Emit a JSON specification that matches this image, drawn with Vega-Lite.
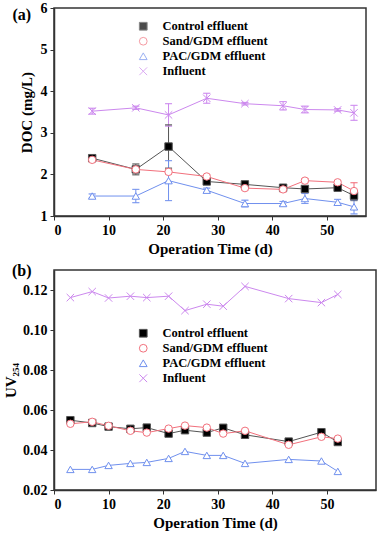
{
  "$schema": "https://vega.github.io/schema/vega-lite/v6.json",
  "padding": {"left": 2, "top": 0, "right": 0, "bottom": 0},
  "background": "white",
  "config": {
    "font": "Liberation Serif, Times New Roman, serif",
    "view": {"stroke": "#333333", "strokeWidth": 1.5},
    "axis": {
      "labelFont": "Liberation Serif, Times New Roman, serif", "labelFontWeight": "bold", "labelFontSize": 14, "labelColor": "black",
      "titleFont": "Liberation Serif, Times New Roman, serif", "titleFontWeight": "bold", "titleFontSize": 15, "titleColor": "black",
      "grid": false, "domainColor": "#333333", "domainWidth": 1.5, "tickColor": "#333333", "tickSize": 4, "tickWidth": 1, "labelPadding": 3
    },
    "legend": {
      "labelFont": "Liberation Serif, Times New Roman, serif", "labelFontWeight": "bold", "labelFontSize": 12.5, "labelColor": "black",
      "symbolStrokeWidth": 1, "symbolSize": 60, "rowPadding": 2, "labelOffset": 13, "title": null
    }
  },
  "datasets": {
    "doc": [
      {"t": 7, "v": 2.39, "lo": 2.36, "hi": 2.42, "s": "Control effluent"},
      {"t": 15, "v": 2.12, "lo": 1.99, "hi": 2.25, "s": "Control effluent"},
      {"t": 21, "v": 2.67, "lo": 2.15, "hi": 3.19, "s": "Control effluent"},
      {"t": 28, "v": 1.83, "lo": 1.8, "hi": 1.86, "s": "Control effluent"},
      {"t": 35, "v": 1.76, "lo": 1.73, "hi": 1.79, "s": "Control effluent"},
      {"t": 42, "v": 1.68, "lo": 1.64, "hi": 1.72, "s": "Control effluent"},
      {"t": 46, "v": 1.65, "lo": 1.6, "hi": 1.7, "s": "Control effluent"},
      {"t": 52, "v": 1.68, "lo": 1.64, "hi": 1.72, "s": "Control effluent"},
      {"t": 55, "v": 1.49, "lo": 1.37, "hi": 1.61, "s": "Control effluent"},
      {"t": 7, "v": 2.35, "lo": 2.31, "hi": 2.39, "s": "Sand/GDM effluent"},
      {"t": 15, "v": 2.12, "lo": 2.07, "hi": 2.17, "s": "Sand/GDM effluent"},
      {"t": 21, "v": 2.06, "lo": 2.01, "hi": 2.11, "s": "Sand/GDM effluent"},
      {"t": 28, "v": 1.95, "lo": 1.91, "hi": 1.99, "s": "Sand/GDM effluent"},
      {"t": 35, "v": 1.67, "lo": 1.63, "hi": 1.71, "s": "Sand/GDM effluent"},
      {"t": 42, "v": 1.64, "lo": 1.58, "hi": 1.7, "s": "Sand/GDM effluent"},
      {"t": 46, "v": 1.85, "lo": 1.8, "hi": 1.9, "s": "Sand/GDM effluent"},
      {"t": 52, "v": 1.81, "lo": 1.77, "hi": 1.85, "s": "Sand/GDM effluent"},
      {"t": 55, "v": 1.6, "lo": 1.4, "hi": 1.8, "s": "Sand/GDM effluent"},
      {"t": 7, "v": 1.48, "lo": 1.43, "hi": 1.53, "s": "PAC/GDM effluent"},
      {"t": 15, "v": 1.48, "lo": 1.32, "hi": 1.64, "s": "PAC/GDM effluent"},
      {"t": 21, "v": 1.85, "lo": 1.37, "hi": 2.33, "s": "PAC/GDM effluent"},
      {"t": 28, "v": 1.62, "lo": 1.57, "hi": 1.67, "s": "PAC/GDM effluent"},
      {"t": 35, "v": 1.3, "lo": 1.22, "hi": 1.38, "s": "PAC/GDM effluent"},
      {"t": 42, "v": 1.3, "lo": 1.25, "hi": 1.35, "s": "PAC/GDM effluent"},
      {"t": 46, "v": 1.42, "lo": 1.3, "hi": 1.54, "s": "PAC/GDM effluent"},
      {"t": 52, "v": 1.33, "lo": 1.26, "hi": 1.4, "s": "PAC/GDM effluent"},
      {"t": 55, "v": 1.22, "lo": 1.05, "hi": 1.39, "s": "PAC/GDM effluent"},
      {"t": 7, "v": 3.52, "lo": 3.45, "hi": 3.59, "s": "Influent"},
      {"t": 15, "v": 3.6, "lo": 3.56, "hi": 3.64, "s": "Influent"},
      {"t": 21, "v": 3.43, "lo": 3.16, "hi": 3.7, "s": "Influent"},
      {"t": 28, "v": 3.83, "lo": 3.71, "hi": 3.95, "s": "Influent"},
      {"t": 35, "v": 3.7, "lo": 3.67, "hi": 3.73, "s": "Influent"},
      {"t": 42, "v": 3.65, "lo": 3.55, "hi": 3.75, "s": "Influent"},
      {"t": 46, "v": 3.56, "lo": 3.48, "hi": 3.64, "s": "Influent"},
      {"t": 52, "v": 3.55, "lo": 3.52, "hi": 3.58, "s": "Influent"},
      {"t": 55, "v": 3.48, "lo": 3.3, "hi": 3.66, "s": "Influent"}
    ],
    "uv": [
      {"t": 3, "v": 0.0549, "s": "Control effluent"},
      {"t": 7, "v": 0.0535, "s": "Control effluent"},
      {"t": 10, "v": 0.0517, "s": "Control effluent"},
      {"t": 14, "v": 0.0506, "s": "Control effluent"},
      {"t": 17, "v": 0.0512, "s": "Control effluent"},
      {"t": 21, "v": 0.0482, "s": "Control effluent"},
      {"t": 24, "v": 0.0499, "s": "Control effluent"},
      {"t": 28, "v": 0.0487, "s": "Control effluent"},
      {"t": 31, "v": 0.0511, "s": "Control effluent"},
      {"t": 35, "v": 0.0476, "s": "Control effluent"},
      {"t": 43, "v": 0.0442, "s": "Control effluent"},
      {"t": 49, "v": 0.0489, "s": "Control effluent"},
      {"t": 52, "v": 0.044, "s": "Control effluent"},
      {"t": 3, "v": 0.0531, "s": "Sand/GDM effluent"},
      {"t": 7, "v": 0.0541, "s": "Sand/GDM effluent"},
      {"t": 10, "v": 0.0521, "s": "Sand/GDM effluent"},
      {"t": 14, "v": 0.0496, "s": "Sand/GDM effluent"},
      {"t": 17, "v": 0.0487, "s": "Sand/GDM effluent"},
      {"t": 21, "v": 0.0507, "s": "Sand/GDM effluent"},
      {"t": 24, "v": 0.0522, "s": "Sand/GDM effluent"},
      {"t": 28, "v": 0.0512, "s": "Sand/GDM effluent"},
      {"t": 31, "v": 0.0482, "s": "Sand/GDM effluent"},
      {"t": 35, "v": 0.0496, "s": "Sand/GDM effluent"},
      {"t": 43, "v": 0.0426, "s": "Sand/GDM effluent"},
      {"t": 49, "v": 0.0466, "s": "Sand/GDM effluent"},
      {"t": 52, "v": 0.0457, "s": "Sand/GDM effluent"},
      {"t": 3, "v": 0.0303, "s": "PAC/GDM effluent"},
      {"t": 7, "v": 0.0303, "s": "PAC/GDM effluent"},
      {"t": 10, "v": 0.0323, "s": "PAC/GDM effluent"},
      {"t": 14, "v": 0.0333, "s": "PAC/GDM effluent"},
      {"t": 17, "v": 0.0338, "s": "PAC/GDM effluent"},
      {"t": 21, "v": 0.0358, "s": "PAC/GDM effluent"},
      {"t": 24, "v": 0.0393, "s": "PAC/GDM effluent"},
      {"t": 28, "v": 0.0373, "s": "PAC/GDM effluent"},
      {"t": 31, "v": 0.0373, "s": "PAC/GDM effluent"},
      {"t": 35, "v": 0.0333, "s": "PAC/GDM effluent"},
      {"t": 43, "v": 0.0353, "s": "PAC/GDM effluent"},
      {"t": 49, "v": 0.0345, "s": "PAC/GDM effluent"},
      {"t": 52, "v": 0.0293, "s": "PAC/GDM effluent"},
      {"t": 3, "v": 0.1162, "s": "Influent"},
      {"t": 7, "v": 0.1192, "s": "Influent"},
      {"t": 10, "v": 0.116, "s": "Influent"},
      {"t": 14, "v": 0.1169, "s": "Influent"},
      {"t": 17, "v": 0.1162, "s": "Influent"},
      {"t": 21, "v": 0.1169, "s": "Influent"},
      {"t": 24, "v": 0.1097, "s": "Influent"},
      {"t": 28, "v": 0.1129, "s": "Influent"},
      {"t": 31, "v": 0.1119, "s": "Influent"},
      {"t": 35, "v": 0.1218, "s": "Influent"},
      {"t": 43, "v": 0.1157, "s": "Influent"},
      {"t": 49, "v": 0.1137, "s": "Influent"},
      {"t": 52, "v": 0.1178, "s": "Influent"}
    ],
    "labA": [{"t": -5.9, "v": 5.82, "lab": "(a)"}],
    "labB": [{"t": -5.9, "v": 0.1297, "lab": "(b)"}]
  },
  "spacing": 4,
  "resolve": {"scale": {"stroke": "independent", "shape": "independent", "fill": "independent"}},
  "vconcat": [
    {
      "width": 312, "height": 208,
      "layer": [
        {
          "data": {"name": "doc"},
          "mark": {"type": "line", "strokeWidth": 1},
          "encoding": {
            "x": {"field": "t", "type": "quantitative", "scale": {"domain": [0, 57.2], "nice": false, "zero": false},
                  "axis": {"title": "Operation Time (d)", "values": [0,5,10,15,20,25,30,35,40,45,50,55], "labelExpr": "datum.value % 10 == 0 ? datum.label : ''", "titlePadding": 4}},
            "y": {"field": "v", "type": "quantitative", "scale": {"domain": [1, 6], "nice": false, "zero": false},
                  "axis": {"title": "DOC (mg/L)", "values": [1,1.5,2,2.5,3,3.5,4,4.5,5,5.5,6], "labelExpr": "datum.value % 1 == 0 ? datum.label : ''", "titlePadding": 6}},
            "stroke": {"field": "s", "type": "nominal", "scale": {"domain": ["Control effluent", "Sand/GDM effluent", "PAC/GDM effluent", "Influent"], "range": ["#555555", "#f2707c", "#7090ee", "#cc88ee"]},
                      "legend": {"orient": "none", "legendX": 83, "legendY": 12}},
            "detail": {"field": "s"}
          }
        },
        {
          "data": {"name": "doc"},
          "mark": {"type": "rule", "strokeWidth": 1},
          "encoding": {
            "x": {"field": "t", "type": "quantitative"},
            "y": {"field": "lo", "type": "quantitative"},
            "y2": {"field": "hi"},
            "stroke": {"field": "s", "type": "nominal"}
          }
        },
        {
          "data": {"name": "doc"},
          "mark": {"type": "tick", "orient": "horizontal", "size": 7, "thickness": 0.01, "filled": false, "strokeWidth": 1},
          "encoding": {
            "x": {"field": "t", "type": "quantitative"},
            "y": {"field": "lo", "type": "quantitative"},
            "stroke": {"field": "s", "type": "nominal"}
          }
        },
        {
          "data": {"name": "doc"},
          "mark": {"type": "tick", "orient": "horizontal", "size": 7, "thickness": 0.01, "filled": false, "strokeWidth": 1},
          "encoding": {
            "x": {"field": "t", "type": "quantitative"},
            "y": {"field": "hi", "type": "quantitative"},
            "stroke": {"field": "s", "type": "nominal"}
          }
        },
        {
          "data": {"name": "doc"},
          "mark": {"type": "point", "size": 55, "strokeWidth": 1, "opacity": 1},
          "encoding": {
            "x": {"field": "t", "type": "quantitative"},
            "y": {"field": "v", "type": "quantitative"},
            "stroke": {"field": "s", "type": "nominal"},
            "shape": {"field": "s", "type": "nominal", "scale": {"domain": ["Control effluent", "Sand/GDM effluent", "PAC/GDM effluent", "Influent"], "range": ["square", "circle", "triangle-up", "M-1,-1L1,1M-1,1L1,-1"]}},
            "fill": {"field": "s", "type": "nominal", "scale": {"domain": ["Control effluent", "Sand/GDM effluent", "PAC/GDM effluent", "Influent"], "range": ["#000000", "#ffffff", "#ffffff", "#ffffff"]}}
          }
        },
        {
          "data": {"name": "labA"},
          "mark": {"type": "text", "fontSize": 16, "fontWeight": "bold", "font": "Liberation Serif, Times New Roman, serif", "clip": false, "color": "black"},
          "encoding": {
            "x": {"field": "t", "type": "quantitative"},
            "y": {"field": "v", "type": "quantitative"},
            "text": {"field": "lab"}
          }
        }
      ]
    },
    {
      "width": 322, "height": 220,
      "layer": [
        {
          "data": {"name": "uv"},
          "mark": {"type": "line", "strokeWidth": 1},
          "encoding": {
            "x": {"field": "t", "type": "quantitative", "scale": {"domain": [0, 59], "nice": false, "zero": false},
                  "axis": {"title": "Operation Time (d)", "values": [0,5,10,15,20,25,30,35,40,45,50,55], "labelExpr": "datum.value % 10 == 0 ? datum.label : ''", "titlePadding": 4}},
            "y": {"field": "v", "type": "quantitative", "scale": {"domain": [0.02, 0.13], "nice": false, "zero": false},
                  "axis": {"title": "UV₂₅₄", "values": [0.02,0.03,0.04,0.05,0.06,0.07,0.08,0.09,0.1,0.11,0.12], "labelExpr": "round(datum.value*100) % 2 == 0 ? format(datum.value, '.2f') : ''", "titlePadding": 4}},
            "stroke": {"field": "s", "type": "nominal", "scale": {"domain": ["Control effluent", "Sand/GDM effluent", "PAC/GDM effluent", "Influent"], "range": ["#555555", "#f2707c", "#7090ee", "#cc88ee"]},
                      "legend": {"orient": "none", "legendX": 83, "legendY": 57}},
            "detail": {"field": "s"}
          }
        },
        {
          "data": {"name": "uv"},
          "mark": {"type": "point", "size": 55, "strokeWidth": 1, "opacity": 1},
          "encoding": {
            "x": {"field": "t", "type": "quantitative"},
            "y": {"field": "v", "type": "quantitative"},
            "stroke": {"field": "s", "type": "nominal"},
            "shape": {"field": "s", "type": "nominal", "scale": {"domain": ["Control effluent", "Sand/GDM effluent", "PAC/GDM effluent", "Influent"], "range": ["square", "circle", "triangle-up", "M-1,-1L1,1M-1,1L1,-1"]}},
            "fill": {"field": "s", "type": "nominal", "scale": {"domain": ["Control effluent", "Sand/GDM effluent", "PAC/GDM effluent", "Influent"], "range": ["#000000", "#ffffff", "#ffffff", "#ffffff"]}}
          }
        },
        {
          "data": {"name": "labB"},
          "mark": {"type": "text", "fontSize": 16, "fontWeight": "bold", "font": "Liberation Serif, Times New Roman, serif", "clip": false, "color": "black"},
          "encoding": {
            "x": {"field": "t", "type": "quantitative"},
            "y": {"field": "v", "type": "quantitative"},
            "text": {"field": "lab"}
          }
        }
      ]
    }
  ]
}
